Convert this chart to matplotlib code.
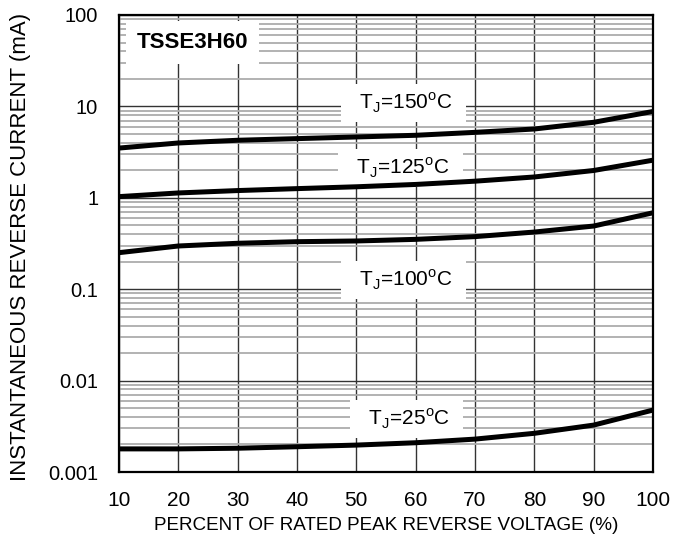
import matplotlib.pyplot as plt
import numpy as np
from matplotlib.ticker import FixedLocator, LogLocator, NullFormatter

plt.rcParams["font.family"] = ["Liberation Sans", "DejaVu Sans"]
plt.rcParams["mathtext.fontset"] = "custom"
plt.rcParams["mathtext.rm"] = "Liberation Sans"

# %% Data
voltage_pct = [10, 20, 30, 40, 50, 60, 70, 80, 90, 100]
current_150 = [3.5, 3.98, 4.26, 4.44, 4.63, 4.83, 5.2, 5.66, 6.7, 8.8]
current_125 = [1.03, 1.13, 1.2, 1.26, 1.32, 1.4, 1.52, 1.69, 1.99, 2.58]
current_100 = [0.251, 0.297, 0.318, 0.331, 0.337, 0.351, 0.376, 0.422, 0.491, 0.686]
current_25 = [0.00179, 0.00179, 0.00182, 0.00189, 0.00197, 0.00209, 0.00229, 0.00265, 0.00326, 0.00476]

series = [current_150, current_125, current_100, current_25]
labels = [r"  T$_\mathregular{J}$=150$^\mathregular{o}$C  ",
          r"  T$_\mathregular{J}$=125$^\mathregular{o}$C  ",
          r"  T$_\mathregular{J}$=100$^\mathregular{o}$C  ",
          r"  T$_\mathregular{J}$=25$^\mathregular{o}$C  "]
label_pos = [(57.9, 9.4), (57.4, 1.82), (57.9, 0.108), (58.5, 0.00327)]

yticks = [0.001, 0.01, 0.1, 1, 10, 100]
ytick_labels = ["0.001", "0.01", "0.1", "1", "10", "100"]

# %% Plot
fig = plt.figure(figsize=(6.73, 5.53), dpi=100)
ax = fig.add_axes([119 / 673, 1 - 472 / 553, (653 - 119) / 673, (472 - 15) / 553])

for vals in series:
    ax.plot(voltage_pct, vals, color="black", lw=3.6, solid_capstyle="butt",
            solid_joinstyle="round", zorder=4)

ax.set_yscale("log")
ax.set_xlim(10, 100)
ax.set_ylim(0.001, 100)
ax.set_xticks(voltage_pct)
ax.yaxis.set_major_locator(FixedLocator(yticks))
ax.set_yticklabels(ytick_labels)
ax.yaxis.set_minor_locator(LogLocator(base=10, subs=np.arange(2, 10)))
ax.yaxis.set_minor_formatter(NullFormatter())

ax.grid(True, which="minor", axis="y", color="#acacac", lw=1.3, zorder=1)
ax.grid(True, which="major", axis="y", color="#333333", lw=1.0, zorder=2)
ax.grid(True, which="major", axis="x", color="#333333", lw=1.0, zorder=2)
ax.set_axisbelow(True)

ax.tick_params(which="both", length=0)
ax.tick_params(axis="x", labelsize=15, pad=14)
ax.tick_params(axis="y", labelsize=14.5, pad=15)
for sp in ax.spines.values():
    sp.set_linewidth(1.6)

ax.set_xlabel("PERCENT OF RATED PEAK REVERSE VOLTAGE (%)", fontsize=13.6, labelpad=5)
ax.set_ylabel("INSTANTANEOUS REVERSE CURRENT (mA)", fontsize=16)
ax.yaxis.set_label_coords(-0.165, 0.492)

for text, (x, y) in zip(labels, label_pos):
    ax.text(x, y, text, fontsize=15, ha="center", va="baseline", zorder=3,
            bbox=dict(facecolor="white", edgecolor="none", pad=5))

ax.text(13.0, 43.6, "TSSE3H60", fontsize=16, fontweight="bold", ha="left",
        va="baseline", zorder=3,
        bbox=dict(facecolor="white", edgecolor="none", pad=8))

fig.savefig("out.png", dpi=100)
